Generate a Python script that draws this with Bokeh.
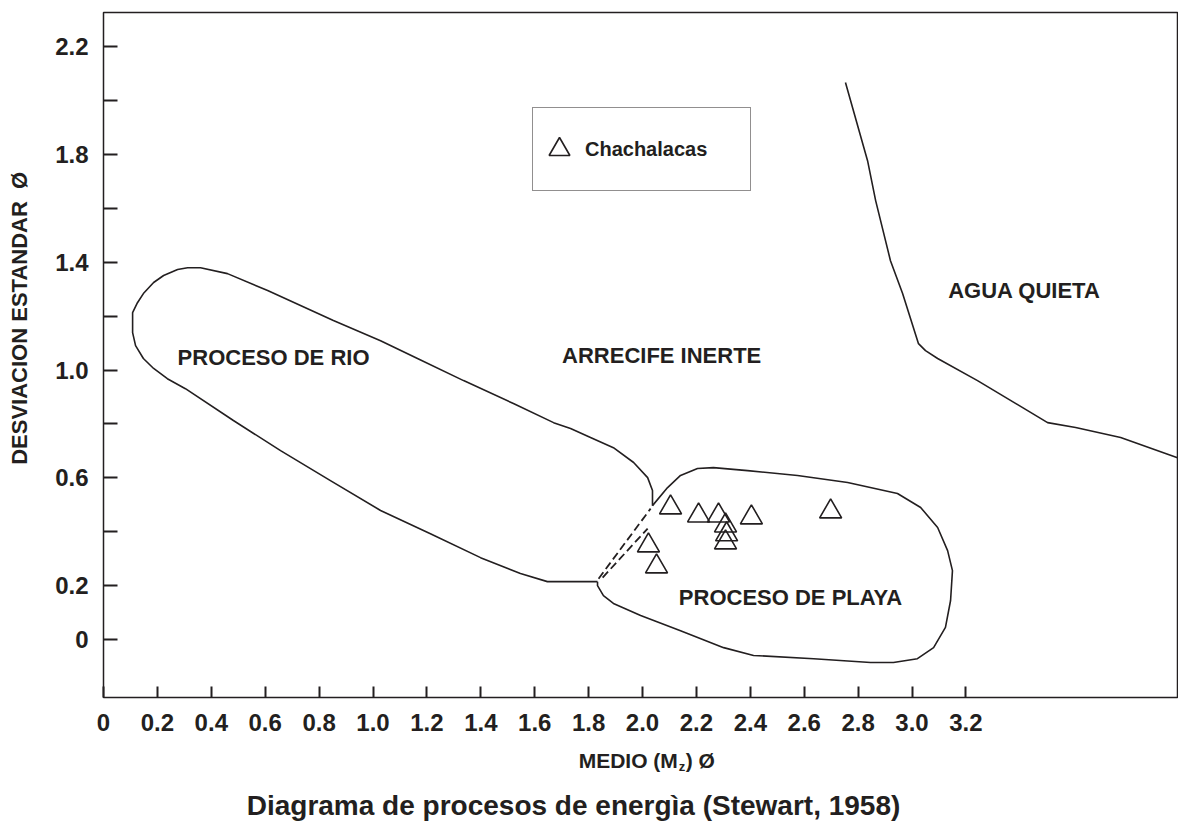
from bokeh.plotting import figure
from bokeh.layouts import column
from bokeh.models import (Range1d, FixedTicker, CustomJSTickFormatter,
                          Legend, LegendItem, ColumnDataSource)
from bokeh.core.properties import value
from bokeh.embed import file_html
from bokeh.resources import INLINE

INK = "#231f20"
FONT = "Liberation Sans"
NB = "\u00a0"

# ---- data (Mz phi, sigma phi) ----
# Chachalacas samples
sample_mz = [2.104, 2.208, 2.282, 2.308, 2.312, 2.308, 2.404, 2.698, 2.022, 2.052]
sample_sigma = [0.490, 0.460, 0.460, 0.423, 0.390, 0.360, 0.453, 0.475, 0.349, 0.271]

# River process field boundary (open toward the beach field)
rio_mz = [2.037, 2.037, 2.019, 1.967, 1.892, 1.807, 1.733, 1.670, 1.521, 1.336,
          1.165, 1.028, 0.853, 0.609, 0.460, 0.360, 0.312, 0.275, 0.223, 0.186,
          0.148, 0.126, 0.108, 0.108, 0.119, 0.148, 0.186, 0.237, 0.304, 0.482,
          0.657, 0.842, 1.028, 1.213, 1.399, 1.547, 1.647, 1.751, 1.833]
rio_sigma = [0.497, 0.553, 0.601, 0.657, 0.712, 0.750, 0.783, 0.805, 0.876, 0.961,
             1.043, 1.109, 1.184, 1.295, 1.358, 1.380, 1.380, 1.373, 1.351, 1.325,
             1.284, 1.250, 1.213, 1.139, 1.091, 1.043, 1.006, 0.968, 0.931, 0.813,
             0.701, 0.590, 0.479, 0.393, 0.304, 0.245, 0.215, 0.215, 0.215]

# Beach process field boundary
playa_mz = [2.037, 2.093, 2.141, 2.204, 2.263, 2.390, 2.575, 2.761, 2.946, 3.032,
            3.095, 3.132, 3.150, 3.143, 3.124, 3.080, 3.020, 2.931, 2.846, 2.635,
            2.412, 2.301, 2.141, 1.993, 1.892, 1.855, 1.833, 1.833]
playa_sigma = [0.497, 0.564, 0.609, 0.635, 0.638, 0.627, 0.609, 0.583, 0.542, 0.490,
               0.416, 0.330, 0.256, 0.145, 0.045, -0.030, -0.071, -0.085, -0.085, -0.071,
               -0.059, -0.030, 0.033, 0.089, 0.134, 0.163, 0.200, 0.215]

# Dashed links between the two fields
dash_a_mz = [1.837, 2.030]
dash_a_sigma = [0.226, 0.486]
dash_b_mz = [1.852, 2.019]
dash_b_sigma = [0.230, 0.412]

# Quiet water boundary
agua_mz = [2.753, 2.835, 2.865, 2.920, 2.965, 3.024, 3.050, 3.095, 3.243, 3.503,
           3.607, 3.774, 3.985]
agua_sigma = [2.067, 1.777, 1.629, 1.406, 1.284, 1.098, 1.072, 1.043, 0.961, 0.805,
              0.787, 0.750, 0.675]

# Field names
region_names = ["PROCESO DE RIO", "ARRECIFE INERTE", "AGUA QUIETA", "PROCESO DE PLAYA"]
region_mz = [0.631, 2.071, 3.417, 2.549]
region_sigma = [1.046, 1.054, 1.295, 0.156]

# Ticks
x_ticks = [0, 0.2, 0.4, 0.6, 0.8, 1.0, 1.2, 1.4, 1.6, 1.8, 2.0, 2.2, 2.4, 2.6, 2.8, 3.0, 3.2]
y_ticks = [0, 0.2, 0.6, 1.0, 1.4, 1.8, 2.2]
y_minor_ticks = [0.4, 0.8, 1.2, 1.6, 2.0]

# Titles
y_title = "DESVIACION ESTANDAR " + NB + "Ø"
x_title_parts = ["MEDIO (M", "z", ") Ø"]
caption = "Diagrama de procesos de energìa (Stewart, 1958)"

W = 1178
x_range = Range1d(0, 3.985)

p = figure(width=W, height=742,
           x_range=x_range, y_range=Range1d(-0.215, 2.327),
           output_backend="svg", toolbar_location=None,
           min_border_left=103, min_border_right=1, min_border_top=12, min_border_bottom=45)
p.title.visible = False
p.grid.visible = False
p.background_fill_color = "white"
p.border_fill_color = "white"
p.outline_line_color = INK
p.outline_line_width = 1.5

fmt = CustomJSTickFormatter(code="return Math.abs(tick) < 1e-9 ? '0' : tick.toFixed(1);")

xa = p.xaxis[0]
xa.ticker = FixedTicker(ticks=x_ticks, minor_ticks=[])
xa.formatter = fmt
xa.axis_line_color = None
xa.major_tick_in = 11
xa.major_tick_out = 0
xa.minor_tick_in = 0
xa.minor_tick_out = 0
xa.major_tick_line_width = 2
xa.major_tick_line_color = INK
xa.major_label_standoff = 16
xa.major_label_text_font = FONT
xa.major_label_text_font_style = "bold"
xa.major_label_text_font_size = "24px"
xa.major_label_text_color = INK

ya = p.yaxis[0]
ya.ticker = FixedTicker(ticks=y_ticks, minor_ticks=y_minor_ticks)
ya.formatter = fmt
ya.axis_line_color = None
ya.major_tick_in = 14
ya.major_tick_out = 0
ya.minor_tick_in = 14
ya.minor_tick_out = 0
ya.major_tick_line_width = 2
ya.minor_tick_line_width = 2
ya.major_tick_line_color = INK
ya.minor_tick_line_color = INK
ya.major_label_standoff = 15
ya.major_label_text_font = FONT
ya.major_label_text_font_style = "bold"
ya.major_label_text_font_size = "24px"
ya.major_label_text_color = INK
ya.axis_label = NB * 12 + y_title
ya.axis_label_standoff = 20
ya.axis_label_text_font = FONT
ya.axis_label_text_font_style = "bold"
ya.axis_label_text_font_size = "22px"
ya.axis_label_text_color = INK

# Field boundaries
p.line(rio_mz, rio_sigma, line_color=INK, line_width=1.6)
p.line(playa_mz, playa_sigma, line_color=INK, line_width=1.6)
p.line(agua_mz, agua_sigma, line_color=INK, line_width=1.6)
p.line(dash_a_mz, dash_a_sigma, line_color=INK, line_width=1.8, line_dash="8 4")
p.line(dash_b_mz, dash_b_sigma, line_color=INK, line_width=1.8, line_dash="8 4")

# Field names
src = ColumnDataSource(dict(x=region_mz, y=region_sigma, t=region_names))
p.text(x="x", y="y", text="t", source=src, text_align="center", text_baseline="middle",
       text_font=value(FONT), text_font_style="bold", text_font_size="22px", text_color=INK)

# Samples
pts = p.scatter(sample_mz, sample_sigma, marker="triangle", size=22,
                fill_color=None, line_color=INK, line_width=1.6)

legend = Legend(items=[LegendItem(label="Chachalacas", renderers=[pts])],
                location=(429, 506), margin=0, padding=0, spacing=0,
                glyph_width=52, glyph_height=52, label_standoff=0,
                label_width=165, label_height=82,
                label_text_font=FONT, label_text_font_style="bold",
                label_text_font_size="20px", label_text_color=INK,
                border_line_color=INK, border_line_width=1.5,
                background_fill_color="white", background_fill_alpha=1.0)
p.add_layout(legend)

# ---- strip below the chart: x-axis title (with subscript) and caption ----
H2 = 82
q = figure(width=W, height=H2, x_range=x_range, y_range=Range1d(0, H2),
           output_backend="svg", toolbar_location=None,
           min_border_left=103, min_border_right=1, min_border_top=0, min_border_bottom=0)
q.title.visible = False
q.axis.visible = False
q.grid.visible = False
q.outline_line_color = None
q.background_fill_color = "white"
q.border_fill_color = "white"

title_x = 1.763
q.text(x=[title_x], y=[64], text=[x_title_parts[0]], text_align="left", text_baseline="middle",
       text_font=value(FONT), text_font_style="bold", text_font_size="21px", text_color=INK)
q.text(x=[title_x], y=[58], text=[x_title_parts[1]], x_offset=100, text_align="left",
       text_baseline="middle", text_font=value(FONT), text_font_style="bold",
       text_font_size="13px", text_color=INK)
q.text(x=[title_x], y=[64], text=[x_title_parts[2]], x_offset=107, text_align="left",
       text_baseline="middle", text_font=value(FONT), text_font_style="bold",
       text_font_size="21px", text_color=INK)
q.text(x=[1.744], y=[19], text=[caption], text_align="center", text_baseline="middle",
       text_font=value(FONT), text_font_style="bold", text_font_size="28px", text_color=INK)

layout = column(p, q, spacing=0)
open("out.html", "w").write(file_html(layout, INLINE))
